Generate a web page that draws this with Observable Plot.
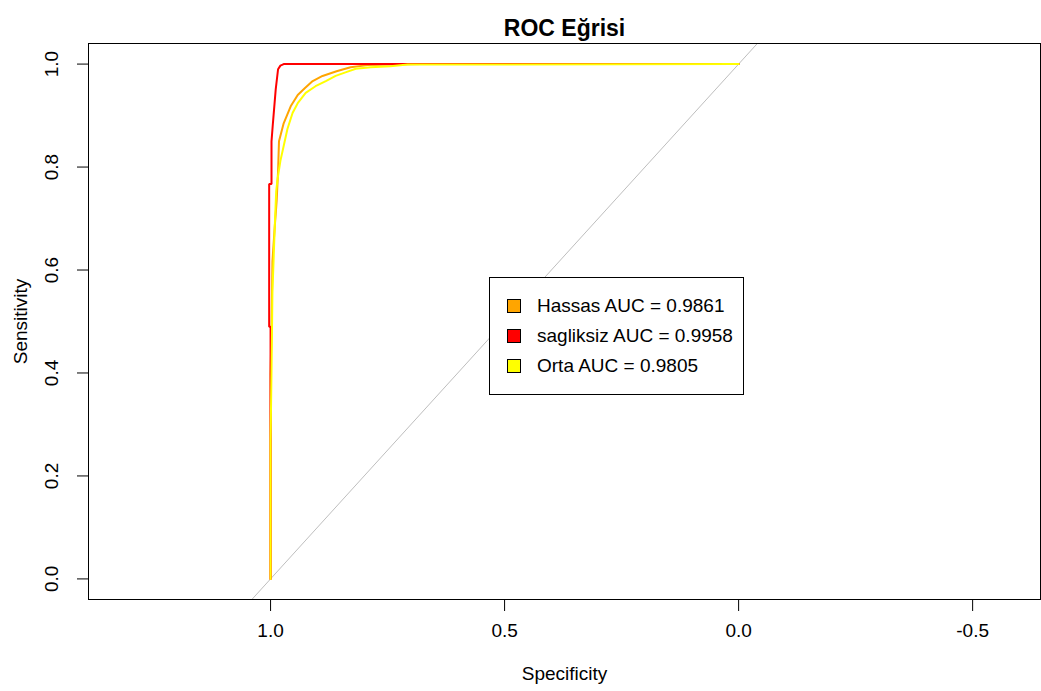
<!DOCTYPE html>
<html><head><meta charset="utf-8">
<script src="https://cdn.jsdelivr.net/npm/d3@7"></script>
<script src="https://cdn.jsdelivr.net/npm/@observablehq/plot@0.6"></script>
<style>
body{margin:0;background:#fff;font-family:"Liberation Sans",Arial,sans-serif;}
#wrap{position:relative;width:1041px;height:691px;}
#legend{position:absolute;left:489px;top:277px;width:255px;height:118px;border:1px solid #000;background:#fff;box-sizing:border-box;}
.row{position:absolute;left:0;height:30px;line-height:30px;font-size:19px;color:#000;white-space:nowrap;}
.sw{position:absolute;left:17px;top:8px;width:12px;height:12px;border:1px solid #000;}
.lt{position:absolute;left:47px;top:0;}
</style>
</head><body>
<div id="wrap"><div id="chart"></div><div id="legend"></div></div>
<script>
// ---- data ----
const seriesNames = ["Hassas", "sagliksiz", "Orta"];
const aucValues = [0.9861, 0.9958, 0.9805];

const hassasSpec = [1, 1, 0.998, 0.996, 0.991, 0.987, 0.984, 0.982, 0.972, 0.957, 0.942, 0.927, 0.910, 0.889, 0.859, 0.829, 0.793, 0.679, 0];
const hassasSens = [0, 0.398, 0.482, 0.617, 0.685, 0.734, 0.792, 0.850, 0.885, 0.918, 0.940, 0.953, 0.967, 0.977, 0.986, 0.994, 0.998, 1, 1];

const sagliksizSpec = [1, 1, 1.003, 1.003, 0.998, 0.998, 0.995, 0.992, 0.989, 0.984, 0.979, 0.972, 0];
const sagliksizSens = [0, 0.49, 0.49, 0.767, 0.767, 0.850, 0.885, 0.918, 0.951, 0.990, 0.997, 1, 1];

const ortaSpec = [1, 1, 0.998, 0.996, 0.994, 0.991, 0.988, 0.985, 0.979, 0.972, 0.964, 0.953, 0.942, 0.925, 0.904, 0.882, 0.861, 0.840, 0.818, 0.786, 0.744, 0.707, 0];
const ortaSens = [0, 0.268, 0.404, 0.559, 0.608, 0.685, 0.753, 0.777, 0.812, 0.841, 0.874, 0.905, 0.924, 0.944, 0.957, 0.967, 0.977, 0.984, 0.991, 0.994, 0.996, 0.999, 1];

const xTicks = [1.0, 0.5, 0.0, -0.5];
const yTicks = [0, 0.2, 0.4, 0.6, 0.8, 1.0];
const titleText = "ROC Eğrisi";
const xLabel = "Specificity";
const yLabel = "Sensitivity";

// ---- build table ----
const specs = [hassasSpec, sagliksizSpec, ortaSpec];
const senss = [hassasSens, sagliksizSens, ortaSens];
const rows = seriesNames.flatMap((s, i) => specs[i].map((sp, j) => ({series: s, spec: sp, sens: senss[i][j]})));
const colorRange = ["#FFA500", "#FF0000", "#FFFF00"];

const xDomain = [1.389, -0.645];
const yDomain = [-0.04, 1.04];
const diag = [xDomain[0] + 0.2, xDomain[1] - 0.2].map(x => ({x, y: 1 - x}));
const fmt = d => d.toFixed(1);

const chart = Plot.plot({
  width: 1041, height: 691,
  marginLeft: 88, marginRight: 1, marginTop: 43, marginBottom: 92,
  style: {fontFamily: "Liberation Sans, Arial, sans-serif", fontSize: "19px", color: "#000", background: "#fff", overflow: "visible"},
  x: {domain: xDomain},
  y: {domain: yDomain},
  color: {domain: seriesNames, range: colorRange},
  marks: [
    Plot.line(diag, {x: "x", y: "y", stroke: "#BEBEBE", strokeWidth: 1, clip: true}),
    Plot.line(rows, {x: "spec", y: "sens", z: "series", stroke: "series", strokeWidth: 2, strokeLinejoin: "miter"}),
    Plot.frame({stroke: "#000", strokeWidth: 1}),
    Plot.axisX({ticks: xTicks, tickSize: 12, tickFormat: () => "", label: null, stroke: "#000"}),
    Plot.axisY({ticks: yTicks, tickSize: 11, tickFormat: () => "", label: null, stroke: "#000"}),
    Plot.text(xTicks, {x: d => d, frameAnchor: "bottom", dy: 37, text: fmt, fill: "#000", textAnchor: "middle"}),
    Plot.text(yTicks, {y: d => d, frameAnchor: "left", dx: -37, rotate: -90, text: fmt, fill: "#000", textAnchor: "middle"}),
    Plot.text([xLabel], {frameAnchor: "bottom", dy: 80, text: d => d, fill: "#000", textAnchor: "middle"}),
    Plot.text([yLabel], {frameAnchor: "left", dx: -68, rotate: -90, text: d => d, fill: "#000", textAnchor: "middle"}),
    Plot.text([titleText], {frameAnchor: "top", dy: -24, text: d => d, fontWeight: "bold", fontSize: 23, fill: "#000", textAnchor: "middle"})
  ]
});
document.getElementById("chart").appendChild(chart);

const legend = document.getElementById("legend");
seriesNames.forEach((s, i) => {
  const row = document.createElement("div");
  row.className = "row";
  row.style.top = (13 + i * 30) + "px";
  const sw = document.createElement("div");
  sw.className = "sw";
  sw.style.background = colorRange[i];
  const t = document.createElement("div");
  t.className = "lt";
  t.textContent = `${s} AUC = ${aucValues[i].toFixed(4)}`;
  row.appendChild(sw); row.appendChild(t);
  legend.appendChild(row);
});
</script>
</body></html>
